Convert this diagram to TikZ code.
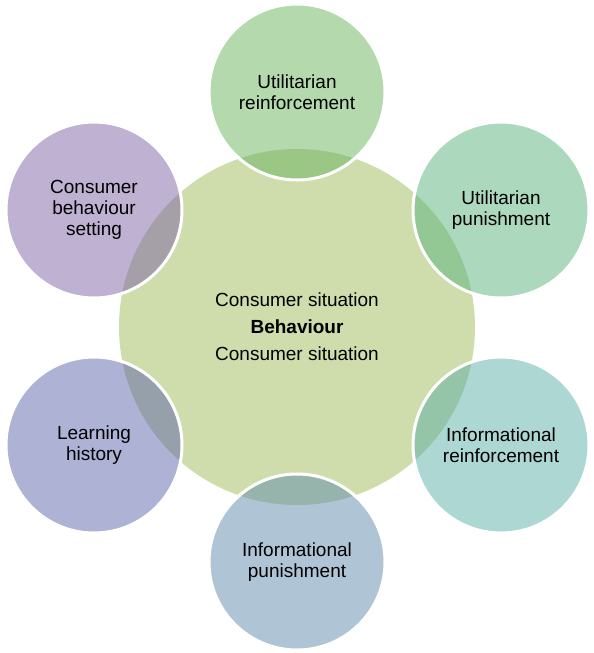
\documentclass[tikz,border=0pt]{standalone}
\usepackage{fontspec}
\setmainfont{Liberation Sans}
\definecolor{hubgreen}{RGB}{207,221,172}
\definecolor{urgreen}{RGB}{103,179,91}
\definecolor{upgreen}{RGB}{89,179,125}
\definecolor{irteal}{RGB}{91,175,167}
\definecolor{ipblue}{RGB}{95,139,173}
\definecolor{lhblue}{RGB}{93,101,169}
\definecolor{cbspurple}{RGB}{125,99,165}
\tikzset{
  hub/.style={circle, fill=hubgreen, minimum size=356pt, inner sep=0pt, align=center,
    font=\fontsize{19}{27}\selectfont},
  satellite/.style={circle, draw=white, line width=3pt, fill opacity=0.5, text opacity=1,
    minimum size=176pt, inner sep=0pt, align=center, font=\fontsize{19}{21}\selectfont}
}
\begin{document}
\begin{tikzpicture}[x=1pt,y=-1pt]
  \useasboundingbox (0,0) rectangle (594,653);
  % centre
  \node [hub] (beh) at (297,327) {Consumer situation\\ \textbf{Behaviour}\\ Consumer situation};
  % satellites, clockwise from the top
  \node [satellite, fill=urgreen] (ur) at (297,92) {Utilitarian\\ reinforcement};
  \node [satellite, fill=upgreen] (up) at (501,210) {Utilitarian\\ punishment};
  \node [satellite, fill=irteal] (ir) at (501,445) {Informational\\ reinforcement};
  \node [satellite, fill=ipblue] (ip) at (297,562) {Informational\\ punishment};
  \node [satellite, fill=lhblue] (lh) at (94,445) {Learning\\ history};
  \node [satellite, fill=cbspurple] (cbs) at (94,210) {Consumer\\ behaviour\\ setting};
\end{tikzpicture}
\end{document}
